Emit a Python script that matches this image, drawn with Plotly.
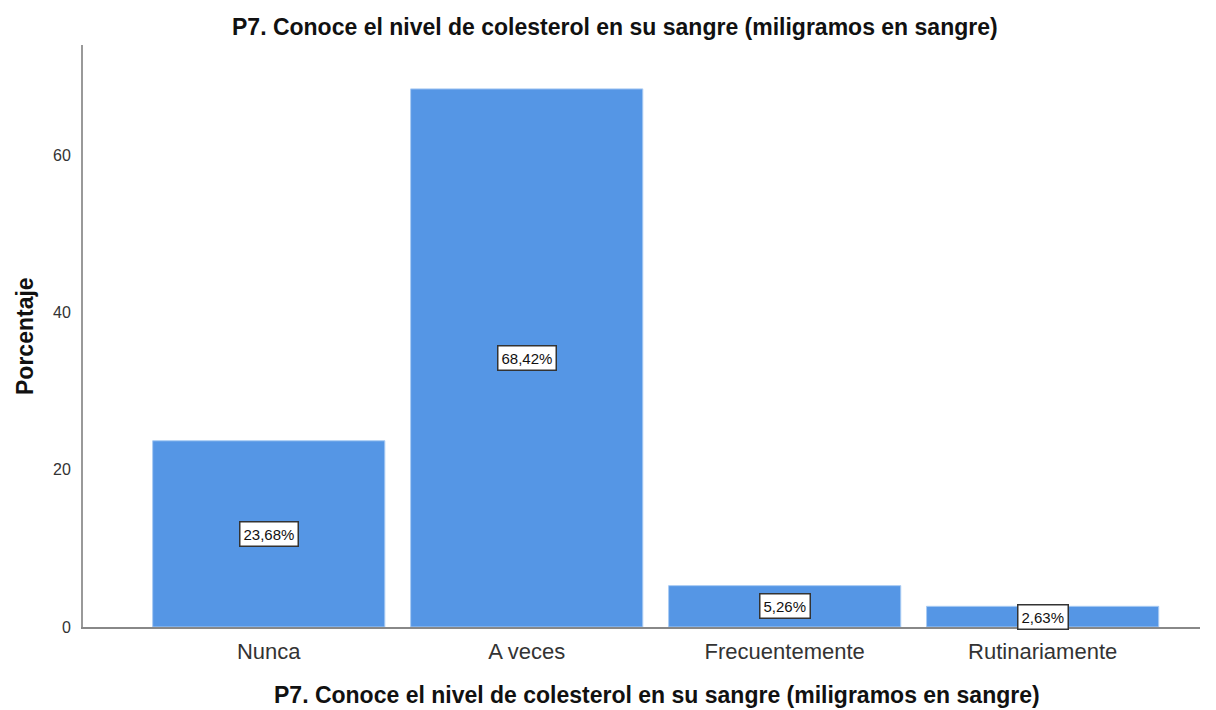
import plotly.graph_objects as go

categorias = ["Nunca", "A veces", "Frecuentemente", "Rutinariamente"]
porcentajes = [23.68, 68.42, 5.26, 2.63]
etiquetas = ["23,68%", "68,42%", "5,26%", "2,63%"]
ticks_y = [0, 20, 40, 60]

titulo = "P7. Conoce el nivel de colesterol en su sangre (miligramos en sangre)"
FUENTE = "Liberation Sans, Arial, sans-serif"

fig = go.Figure()
fig.add_trace(go.Bar(
    x=categorias, y=porcentajes,
    marker=dict(color="#5596E5", line=dict(color="#A9CBF3", width=1)),
    width=0.9,
    hoverinfo="skip",
))

# etiquetas en caja al centro de cada barra
for cat, val, txt in zip(categorias, porcentajes, etiquetas):
    fig.add_annotation(
        x=cat, y=val / 2, text=txt, showarrow=False,
        font=dict(family=FUENTE, size=15, color="#111111"),
        bgcolor="white", bordercolor="#333333", borderwidth=1.5, borderpad=3,
    )

# títulos
fig.add_annotation(
    x=0.4767, y=1, xref="paper", yref="paper", yanchor="middle", yshift=18,
    text=f"<b>{titulo}</b>", showarrow=False,
    font=dict(family=FUENTE, size=23, color="#111111"),
)
fig.add_annotation(
    x=0.514, y=0, xref="paper", yref="paper", yanchor="middle", yshift=-68,
    text=f"<b>{titulo}</b>", showarrow=False,
    font=dict(family=FUENTE, size=23, color="#111111"),
)
fig.add_annotation(
    x=0, y=0.5, xref="paper", yref="paper", xanchor="center", xshift=-58,
    text="<b>Porcentaje</b>", textangle=-90, showarrow=False,
    font=dict(family=FUENTE, size=23, color="#111111"),
)

# la página añade 8 px de margen al cuerpo; se compensa en los márgenes
fig.update_layout(
    width=1216, height=710,
    margin=dict(l=75, r=24, t=37, b=91),
    paper_bgcolor="white", plot_bgcolor="white",
    showlegend=False,
    bargap=0.1,
    font=dict(family=FUENTE),
    xaxis=dict(
        range=[-0.72, 3.61], showgrid=False, zeroline=False,
        showline=True, linecolor="#888888", linewidth=1.5,
        ticks="", ticklabelstandoff=4,
        tickfont=dict(family=FUENTE, size=22, color="#333333"),
    ),
    yaxis=dict(
        range=[0, 74], tickvals=ticks_y, showgrid=False, zeroline=False,
        showline=True, linecolor="#999999", linewidth=2,
        ticks="", ticklabelstandoff=7,
        tickfont=dict(family=FUENTE, size=16, color="#333333"),
    ),
)

fig.write_html("out.html")
